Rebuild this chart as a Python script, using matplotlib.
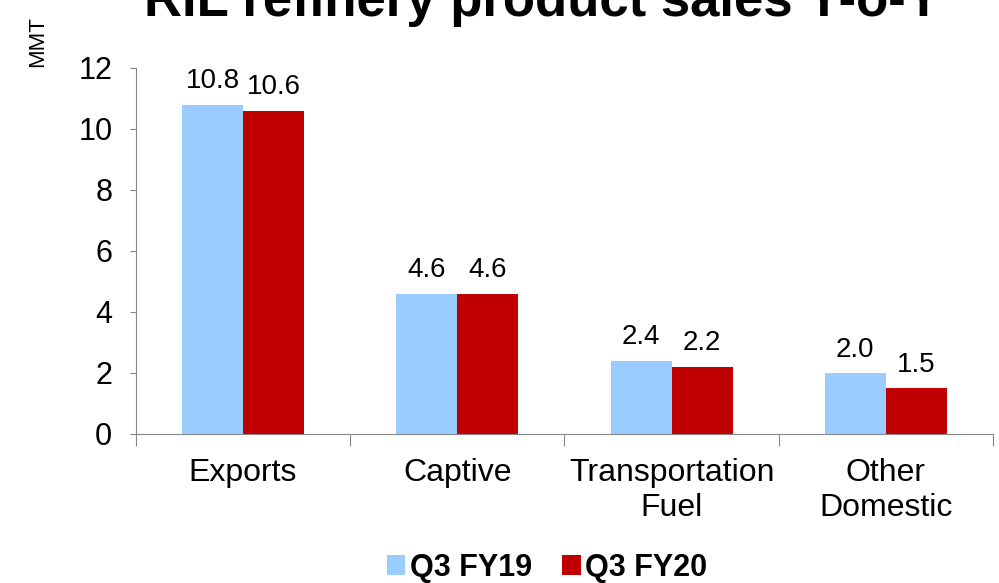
#!/usr/bin/env python3
"""RIL refinery product sales Y-o-Y bar chart"""

import numpy as np
import matplotlib.pyplot as plt

plt.rcParams['font.family'] = ['Liberation Sans', 'DejaVu Sans']

# Data
categories = ['Exports', 'Captive', 'Transportation\nFuel', 'Other\nDomestic']
q3_fy19 = [10.8, 4.6, 2.4, 2.0]
q3_fy20 = [10.6, 4.6, 2.2, 1.5]
series_names = ['Q3 FY19', 'Q3 FY20']
yticks = [0, 2, 4, 6, 8, 10, 12]

blue = '#99CCFF'
red = '#C00000'
axis_grey = '#868686'

fig = plt.figure(figsize=(9.99, 5.83), dpi=100)
ax = fig.add_axes([0.136, 0.2556, 0.858, 0.6278])

x = np.arange(len(categories))
w = 0.285
b1 = ax.bar(x - w / 2, q3_fy19, w, color=blue, label=series_names[0])
b2 = ax.bar(x + w / 2, q3_fy20, w, color=red, label=series_names[1])

for bars, vals in ((b1, q3_fy19), (b2, q3_fy20)):
    for bar, v in zip(bars, vals):
        ax.annotate(f'{v:.1f}', (bar.get_x() + bar.get_width() / 2, bar.get_height()),
                    xytext=(0, 7.5), textcoords='offset points',
                    ha='center', va='bottom', fontsize=20)

ax.set_xlim(-0.5, len(categories) - 0.5)
ax.set_ylim(0, 12)
ax.set_yticks(yticks)
ax.set_yticklabels([str(t) for t in yticks], fontsize=22)

# category labels between boundary ticks
ax.set_xticks(np.arange(len(categories) + 1) - 0.5)
ax.set_xticklabels([])
ax.set_xticks(x, minor=True)
ax.set_xticklabels(categories, minor=True, fontsize=23, linespacing=1.22)
ax.tick_params(axis='x', which='minor', length=0, pad=17)
ax.tick_params(axis='x', which='major', length=8.5, color=axis_grey)
ax.tick_params(axis='y', length=4, color=axis_grey, pad=13)

for s in ('top', 'right'):
    ax.spines[s].set_visible(False)
ax.spines['left'].set_color(axis_grey)
ax.spines['bottom'].set_color(axis_grey)

fig.text(38 / 999, 1 - 42 / 583, 'MMT', rotation=90, ha='center', va='center', fontsize=16)

# title sits partly above the top edge, as in the source slide
fig.text(542 / 999, 1 - 16 / 583, 'RIL refinery product sales Y-o-Y',
         ha='center', va='baseline', fontsize=38, fontweight='bold')

fig.legend(handles=[b1, b2], loc='center', bbox_to_anchor=(547 / 999, 1 - 568 / 583),
           ncol=2, frameon=False, prop={'size': 22, 'weight': 'bold'},
           handlelength=0.6, handleheight=0.65, handletextpad=0.15, columnspacing=1.0,
           borderpad=0.0)

plt.savefig('out.png', dpi=100, facecolor='white')
plt.close()
